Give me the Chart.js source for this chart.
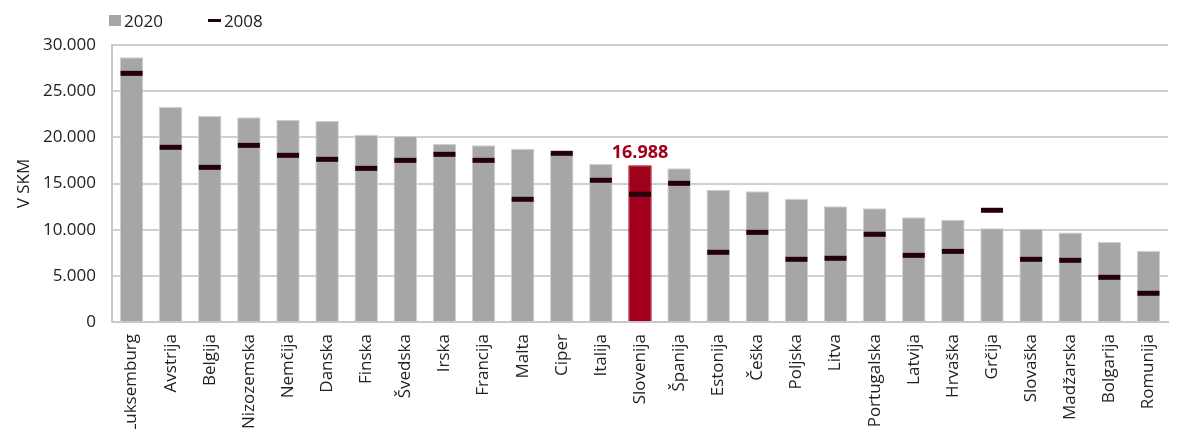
<!DOCTYPE html>
<html>
<head>
<meta charset="utf-8">
<script src="https://cdn.jsdelivr.net/npm/chart.js@4/dist/chart.umd.min.js"></script>
<style>
  html, body { margin: 0; padding: 0; background: #fff; }
  #wrap { position: relative; width: 1184px; height: 429px; overflow: hidden; }
  #legend { position: absolute; left: 109px; top: 9px; font: 17px "Open Sans", sans-serif; color: #222; display: flex; gap: 45px; }
  .item { display: flex; align-items: center; gap: 3px; }
  .sq { width: 12px; height: 11px; background: #a6a6a6; }
  .dash { width: 13px; height: 3px; background: #250008; }
</style>
</head>
<body>
<div id="wrap">
  <canvas id="c" width="1184" height="429"></canvas>
  <div id="legend">
    <div class="item"><span class="sq"></span><span>2020</span></div>
    <div class="item"><span class="dash"></span><span>2008</span></div>
  </div>
</div>
<script>
"use strict";

const COUNTRIES = [
  "Luksemburg", "Avstrija", "Belgija", "Nizozemska", "Nemčija", "Danska", "Finska",
  "Švedska", "Irska", "Francija", "Malta", "Ciper", "Italija", "Slovenija", "Španija",
  "Estonija", "Češka", "Poljska", "Litva", "Portugalska", "Latvija", "Hrvaška", "Grčija",
  "Slovaška", "Madžarska", "Bolgarija", "Romunija",
];
const Y2020 = [
  28670, 23320, 22310, 22170, 21880, 21770, 20290,
  20150, 19310, 19130, 18770, 18300, 17110, 16988, 16640,
  14330, 14150, 13360, 12530, 12310, 11340, 11080, 10150,
  10110, 9680, 8660, 7720,
];
const Y2008 = [
  26930, 18920, 16750, 19130, 18050, 17620, 16640,
  17510, 18160, 17510, 13290, 18270, 15350, 13830, 15020,
  7550, 9710, 6790, 6900, 9500, 7220, 7650, 12100,
  6790, 6680, 4840, 3110,
];
const Y_TICKS = [0, 5000, 10000, 15000, 20000, 25000, 30000];
const HIGHLIGHT = "Slovenija";

const GREY = "#a6a6a6";
const RED = "#a0001c";
const MARK = "#250008";
const FONT = '"Open Sans", sans-serif';

const fmtNum = (v) => String(v).replace(/\B(?=(\d{3})+(?!\d))/g, ".");

// value label above the highlighted bar
const highlightLabel = {
  id: "highlightLabel",
  afterDatasetsDraw(chart) {
    const i = COUNTRIES.indexOf(HIGHLIGHT);
    const bar = chart.getDatasetMeta(1).data[i];
    const ctx = chart.ctx;
    ctx.save();
    ctx.font = "bold 18px " + FONT;
    ctx.fillStyle = RED;
    ctx.textAlign = "center";
    ctx.textBaseline = "bottom";
    ctx.fillText(fmtNum(Y2020[i]), bar.x, bar.y - 3);
    ctx.restore();
  },
};

new Chart(document.getElementById("c"), {
  data: {
    labels: COUNTRIES,
    datasets: [
      {
        type: "line",
        label: "2008",
        data: Y2008,
        showLine: false,
        pointStyle: "line",
        pointRadius: 11,
        pointHoverRadius: 11,
        pointBorderWidth: 5,
        borderColor: MARK,
        backgroundColor: MARK,
        order: 0,
      },
      {
        type: "bar",
        label: "2020",
        data: Y2020,
        backgroundColor: COUNTRIES.map((c) => (c === HIGHLIGHT ? RED : GREY)),
        borderColor: COUNTRIES.map((c) => (c === HIGHLIGHT ? RED : "#cfcfcf")),
        borderWidth: 1,
        categoryPercentage: 1,
        barPercentage: 0.6,
        order: 1,
      },
    ],
  },
  options: {
    responsive: false,
    animation: false,
    layout: { padding: { top: 45, right: 0, left: 0, bottom: 0 } },
    plugins: { legend: { display: false }, tooltip: { enabled: false } },
    scales: {
      x: {
        grid: { display: false },
        border: { color: "#c8c8c8", width: 2 },
        ticks: { color: "#222", font: { family: FONT, size: 17 }, maxRotation: 90, minRotation: 90, autoSkip: false, padding: 4 },
        afterFit: (s) => { s.height = 107; },
      },
      y: {
        min: 0,
        max: 30000,
        afterBuildTicks: (s) => { s.ticks = Y_TICKS.map((v) => ({ value: v })); },
        grid: { color: "#d0d0d0", lineWidth: 2, drawTicks: false },
        border: { color: "#c8c8c8", width: 2 },
        ticks: { color: "#222", font: { family: FONT, size: 17 }, padding: 16, callback: (v) => fmtNum(v) },
        title: { display: true, text: "V SKM", color: "#222", font: { family: FONT, size: 17 }, padding: { top: 14, bottom: 0 } },
        afterFit: (s) => { s.width = 112; },
      },
    },
  },
  plugins: [highlightLabel],
});
</script>
</body>
</html>
